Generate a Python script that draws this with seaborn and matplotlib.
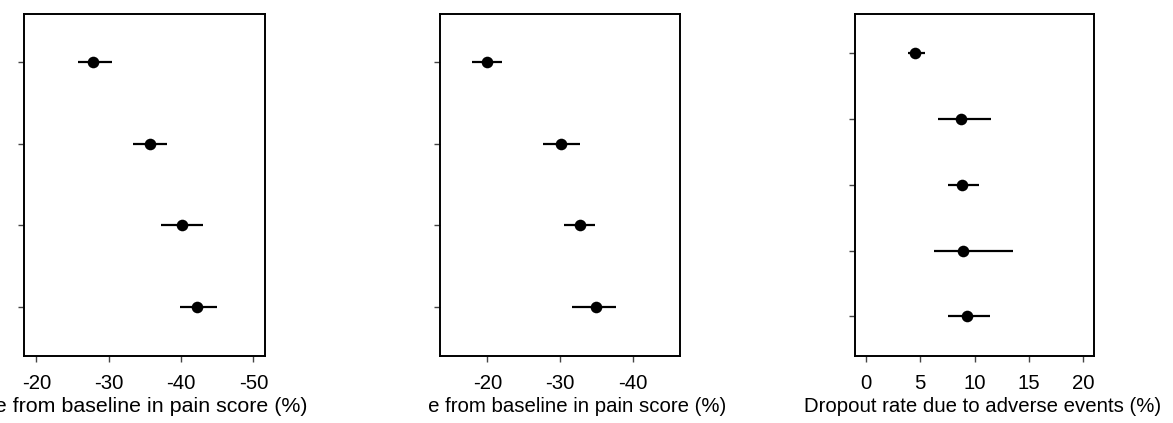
import matplotlib
matplotlib.use("Agg")
import matplotlib.pyplot as plt
from matplotlib.transforms import Bbox
import seaborn as sns
import numpy as np
import pandas as pd

# ---- data ----
pain1_groups = ["Group 1", "Group 2", "Group 3", "Group 4"]
pain1_mean = [-27.9, -35.7, -40.2, -42.2]
pain1_low = [-25.8, -33.4, -37.2, -39.8]
pain1_high = [-30.4, -38.0, -43.0, -45.0]

pain2_groups = ["Group 1", "Group 2", "Group 3", "Group 4"]
pain2_mean = [-19.9, -30.2, -32.7, -35.0]
pain2_low = [-17.9, -27.7, -30.6, -31.6]
pain2_high = [-22.0, -32.75, -34.8, -37.7]

drop_groups = ["Group 1", "Group 2", "Group 3", "Group 4", "Group 5"]
drop_mean = [4.55, 8.8, 8.85, 8.95, 9.3]
drop_low = [3.9, 6.6, 7.6, 6.25, 7.6]
drop_high = [5.4, 11.5, 10.4, 13.5, 11.4]

pain_ticks = [-20, -30, -40, -50]
drop_ticks = [0, 5, 10, 15, 20]
pain_label = "Change from baseline in pain score (%)"
drop_label = "Dropout rate due to adverse events (%)"

sns.set_theme(style="white")
plt.rcParams["font.family"] = ["Liberation Sans", "DejaVu Sans"]
plt.rcParams["text.color"] = "black"
plt.rcParams["axes.labelcolor"] = "black"
plt.rcParams["xtick.labelcolor"] = "black"

W, H = 1173, 423
FS = 14.7
fig = plt.figure(figsize=(W / 100, H / 100), dpi=100)


def panel(rect, groups, mean, low, high, xlim, ticks, xlabel, label_x, label_fs):
    ax = fig.add_axes(rect)
    pos = np.arange(len(groups))
    df = pd.DataFrame({"group": groups, "pos": pos, "mean": mean,
                       "low": low, "high": high})
    ax.hlines(df["pos"], df["low"], df["high"], color="black", lw=1.6, zorder=2)
    sns.scatterplot(data=df, x="mean", y="pos", ax=ax, color="black",
                    s=70, edgecolor="black", linewidth=0, zorder=3, legend=False)
    ax.set_yticks(pos)
    ax.set_yticklabels([""] * len(groups))
    ax.set_xticks(ticks)
    ax.set_xticklabels([str(t) for t in ticks], fontsize=FS, color="black")
    ax.set_xlim(*xlim)
    ax.set_ylim(len(groups) - 1 + 0.6, -0.59)
    ax.set_ylabel("")
    lab = ax.set_xlabel(xlabel, fontsize=label_fs, labelpad=3, color="black")
    lab.set_x(label_x)
    ax.tick_params(axis="both", which="both", direction="out", length=4,
                   width=1.0, color="#444444", left=True, bottom=True, pad=9)
    for sp in ax.spines.values():
        sp.set_visible(True)
        sp.set_color("black")
        sp.set_linewidth(1.4)
    ax.grid(False)
    return ax, lab


def rect(l, r, t=14, b=356):
    return [l / W, (H - b) / H, (r - l) / W, (b - t) / H]


ax1, l1 = panel(rect(24, 265), pain1_groups, pain1_mean, pain1_low, pain1_high,
                (-18.3, -51.6), pain_ticks, pain_label, 0.399, 15.4)
ax2, l2 = panel(rect(440, 680), pain2_groups, pain2_mean, pain2_low, pain2_high,
                (-13.5, -46.5), pain_ticks, pain_label, 0.4475, FS)
ax3, l3 = panel(rect(855, 1094), drop_groups, drop_mean, drop_low, drop_high,
                (-1.0, 21.0), drop_ticks, drop_label, 0.533, FS)

# the middle panel's axis title is cut off at its left, as in the reference
l2.set_clip_box(Bbox.from_extents(427, 0, W, H))
l2.set_clip_on(True)

fig.savefig("out.png", dpi=100, facecolor="white")
